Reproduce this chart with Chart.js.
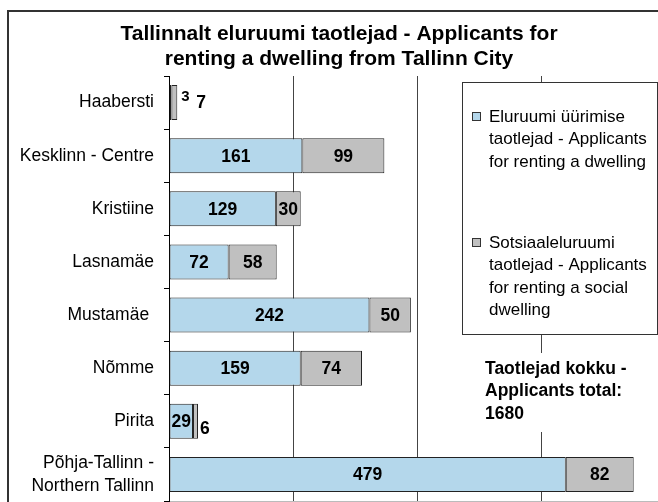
<!DOCTYPE html>
<html lang="et">
<head>
<meta charset="utf-8">
<title>Tallinnalt eluruumi taotlejad</title>
<script src="https://cdn.jsdelivr.net/npm/chart.js@4"></script>
<style>
  html, body { margin: 0; padding: 0; background: #fff; overflow: hidden; }
</style>
</head>
<body>
<canvas id="grafico" width="700" height="540"></canvas>
<script>
// Dados do gráfico
const categorias = ['Haabersti', 'Kesklinn - Centre', 'Kristiine', 'Lasnamäe', 'Mustamäe ', 'Nõmme', 'Pirita', ['Põhja-Tallinn -', 'Northern Tallinn']];
const eluruumiTaotlejad = [3, 161, 129, 72, 242, 159, 29, 479];
const sotsiaalTaotlejad = [7, 99, 30, 58, 50, 74, 6, 82];
const xTicks = [0, 150, 300, 450, 600];

// Textos
const tituloLinhas = ['Tallinnalt eluruumi taotlejad - Applicants for', 'renting a dwelling from Tallinn City'];
const legendaLinhas = [
    ['Eluruumi üürimise', 'taotlejad - Applicants', 'for renting a dwelling'],
    ['Sotsiaaleluruumi', 'taotlejad - Applicants', 'for renting a social', 'dwelling']
];
const total = eluruumiTaotlejad.concat(sotsiaalTaotlejad).reduce((a, b) => a + b, 0);
const totalLinhas = ['Taotlejad kokku -', 'Applicants total:', String(total)];

const corAzul = '#b4d7eb';
const corCinza = '#c0c0c0';
const fonte = '"Liberation Sans", Arial, sans-serif';

// Plugin para título, legenda, moldura e total
const extrasPlugin = {
    id: 'extras',
    afterDraw(chart) {
        const ctx = chart.ctx;
        ctx.save();

        // Moldura externa
        ctx.strokeStyle = '#333';
        ctx.lineWidth = 2;
        ctx.strokeRect(8, 11, 800, 600);

        // Título
        ctx.fillStyle = '#000';
        ctx.font = 'bold 21px ' + fonte;
        ctx.textAlign = 'center';
        ctx.textBaseline = 'middle';
        tituloLinhas.forEach((linha, i) => ctx.fillText(linha, 339, 34 + i * 25));

        // Legenda
        ctx.fillStyle = '#fff';
        ctx.fillRect(462.5, 82.5, 195, 252);
        ctx.strokeStyle = '#333';
        ctx.lineWidth = 1;
        ctx.strokeRect(462.5, 82.5, 195, 252);
        const cores = [corAzul, corCinza];
        const inicios = [117, 243];
        ctx.font = '17px ' + fonte;
        ctx.textAlign = 'left';
        legendaLinhas.forEach((linhas, k) => {
            ctx.fillStyle = cores[k];
            ctx.fillRect(472.5, inicios[k] - 4.5, 8, 8);
            ctx.strokeRect(472.5, inicios[k] - 4.5, 8, 8);
            ctx.fillStyle = '#000';
            linhas.forEach((linha, i) => ctx.fillText(linha, 489, inicios[k] + i * 22.5));
        });

        // Total de candidatos
        ctx.fillStyle = '#fff';
        ctx.fillRect(481, 353, 160, 79);
        ctx.fillStyle = '#000';
        ctx.font = 'bold 17.5px ' + fonte;
        totalLinhas.forEach((linha, i) => ctx.fillText(linha, 485, 369 + i * 22.5));

        ctx.restore();
    }
};

// Plugin para os rótulos dos valores
const rotulosPlugin = {
    id: 'rotulos',
    afterDatasetsDraw(chart) {
        const ctx = chart.ctx;
        const m0 = chart.getDatasetMeta(0);
        const m1 = chart.getDatasetMeta(1);
        ctx.save();
        ctx.fillStyle = '#000';
        ctx.textBaseline = 'middle';
        categorias.forEach((c, i) => {
            const b0 = m0.data[i];
            const b1 = m1.data[i];
            const t0 = String(eluruumiTaotlejad[i]);
            const t1 = String(sotsiaalTaotlejad[i]);
            ctx.font = 'bold 17.5px ' + fonte;
            const cabe0 = ctx.measureText(t0).width + 4 <= Math.abs(b0.x - b0.base);
            const cabe1 = ctx.measureText(t1).width + 4 <= Math.abs(b1.x - b1.base);

            if (cabe0) {
                ctx.textAlign = 'center';
                ctx.fillText(t0, (b0.x + b0.base) / 2, b0.y + 1);
            }
            if (cabe1) {
                ctx.textAlign = 'center';
                ctx.fillText(t1, (b1.x + b1.base) / 2, b1.y + 1);
            } else if (cabe0) {
                ctx.textAlign = 'left';
                ctx.fillText(t1, b1.x + 2, b1.y + 8);
            } else {
                ctx.textAlign = 'left';
                ctx.fillText(t1, b1.x + 19, b1.y + 1);
            }
            if (!cabe0) {
                ctx.font = 'bold 15px ' + fonte;
                ctx.textAlign = 'left';
                ctx.fillText(t0, b1.x + 4, b1.y - 6);
            }
        });
        ctx.restore();
    }
};

const ctx = document.getElementById('grafico').getContext('2d');
const grafico = new Chart(ctx, {
    type: 'bar',
    data: {
        labels: categorias,
        datasets: [
            {
                label: legendaLinhas[0].join(' '),
                data: eluruumiTaotlejad,
                backgroundColor: corAzul,
                borderColor: '#222',
                borderWidth: 1,
                borderSkipped: false,
                barPercentage: 0.66,
                categoryPercentage: 1
            },
            {
                label: legendaLinhas[1].join(' '),
                data: sotsiaalTaotlejad,
                backgroundColor: corCinza,
                borderColor: '#222',
                borderWidth: 1,
                borderSkipped: false,
                barPercentage: 0.66,
                categoryPercentage: 1
            }
        ]
    },
    options: {
        indexAxis: 'y',
        responsive: false,
        animation: false,
        layout: { padding: { top: 76, bottom: 39, left: 0, right: 34 } },
        plugins: {
            legend: { display: false },
            title: { display: false },
            tooltip: { enabled: false }
        },
        scales: {
            x: {
                stacked: true,
                min: xTicks[0],
                max: xTicks[xTicks.length - 1],
                afterBuildTicks: (scale) => { scale.ticks = xTicks.map(v => ({ value: v })); },
                ticks: { display: false },
                grid: { color: '#444', lineWidth: 1, drawTicks: false },
                border: { color: '#bbb', width: 1 }
            },
            y: {
                stacked: true,
                afterFit: (scale) => { scale.width = 169; },
                ticks: {
                    color: '#000',
                    padding: 10,
                    font: { family: fonte, size: 17.5, lineHeight: 1.3 }
                },
                grid: { drawOnChartArea: false, drawTicks: true, tickLength: 5, color: '#000', offset: true },
                border: { color: '#000', width: 1 }
            }
        }
    },
    plugins: [rotulosPlugin, extrasPlugin]
});
</script>
</body>
</html>
